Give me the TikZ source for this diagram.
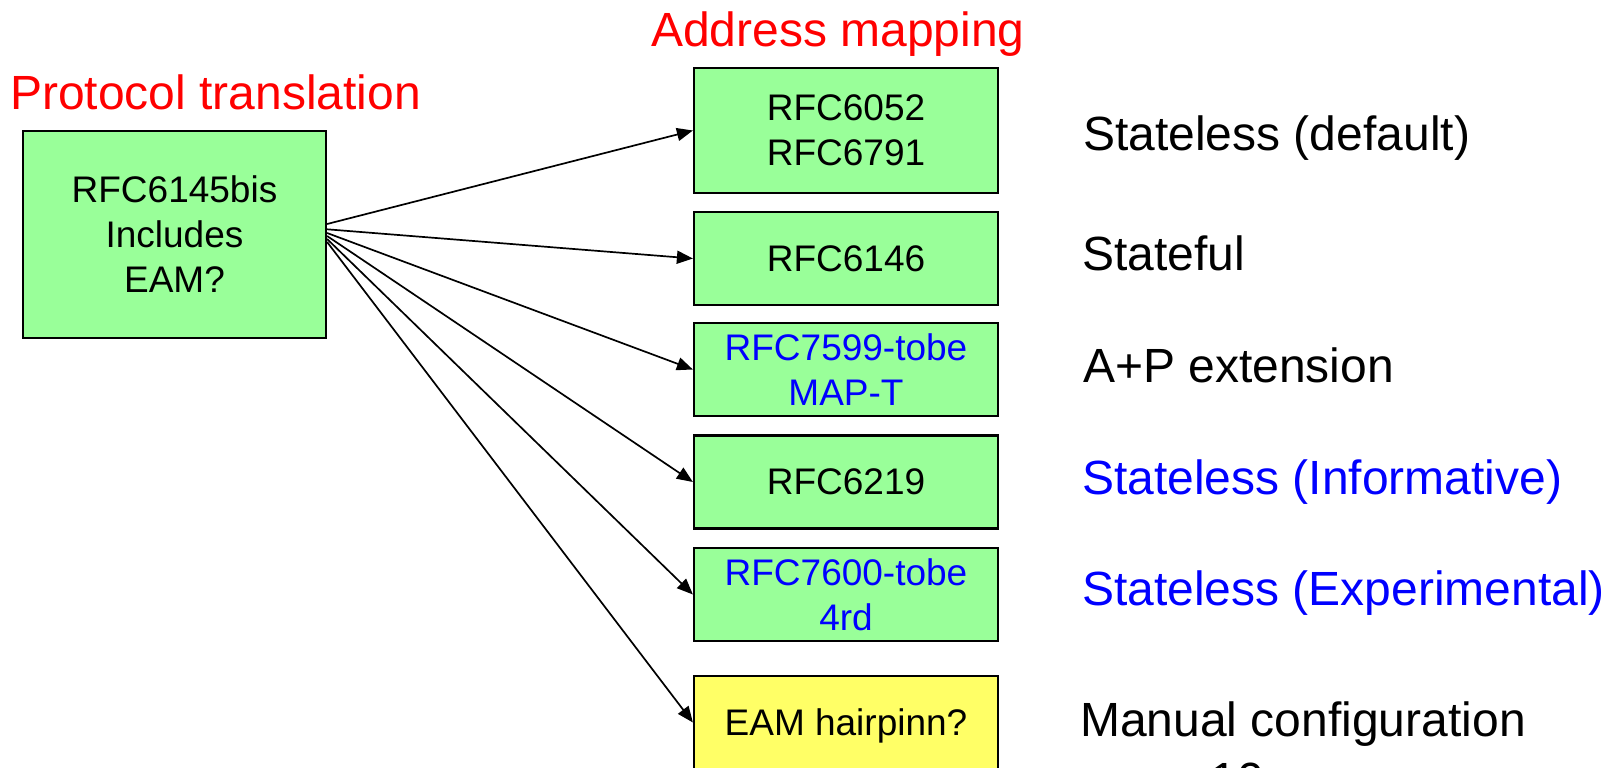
\documentclass[tikz,border=0pt]{standalone}
\usepackage{fontspec}
\setmainfont{Liberation Sans}
\usetikzlibrary{arrows.meta}
\definecolor{boxgreen}{RGB}{153,255,153}
\definecolor{boxyellow}{RGB}{255,255,102}
\definecolor{titlered}{RGB}{255,0,0}
\definecolor{noteblue}{RGB}{0,0,255}

\begin{document}
\begin{tikzpicture}[x=1pt,y=-1pt,
  rfcbox/.style={draw=black, line width=2.2pt, fill=boxgreen,
    minimum width=304pt, minimum height=93pt, inner sep=0pt,
    align=center, font=\fontsize{37}{45}\selectfont},
  heading/.style={text=titlered, anchor=base west, inner sep=0pt,
    font=\fontsize{48}{57}\selectfont},
  remark/.style={anchor=base west, inner sep=0pt,
    font=\fontsize{48}{57}\selectfont},
  link/.style={line width=1.7pt, -{Triangle[length=16pt,width=13pt]}}
]
\useasboundingbox (0,0) rectangle (1620,768);
\clip (0,0) rectangle (1620,768);

% column headings
\node[heading] (hproto) at (10,109) {Protocol translation};
\node[heading] (hmap)   at (651,47) {Address mapping};

% translator box
\node[rfcbox, minimum width=303pt, minimum height=207pt] (xlat) at (174.5,234.5)
  {RFC6145bis\\Includes\\EAM?};

% address mapping boxes
\node[rfcbox, minimum height=125pt] (m1) at (846,130.5) {RFC6052\\RFC6791};
\node[rfcbox] (m2) at (846,258.5) {RFC6146};
\node[rfcbox, text=noteblue] (m3) at (846,369.5) {RFC7599-tobe\\MAP-T};
\node[rfcbox] (m4) at (846,482) {RFC6219};
\node[rfcbox, text=noteblue] (m5) at (846,594.5) {RFC7600-tobe\\4rd};
\node[rfcbox, fill=boxyellow, text depth=0pt] (m6) at (846,722.5) {EAM hairpinn?};

% fan of connectors
\draw[link] ([yshift=10.5pt]xlat.east) -- (m1.west);
\draw[link] ([yshift=5.2pt]xlat.east)  -- (m2.west);
\draw[link] ([yshift=1.5pt]xlat.east)  -- (m3.west);
\draw[link] ([yshift=-1.5pt]xlat.east) -- (m4.west);
\draw[link] ([yshift=-4.5pt]xlat.east) -- (m5.west);
\draw[link] ([yshift=-7.5pt]xlat.east) -- (m6.west);

% mode notes
\node[remark] (n1) at (1083,150) {Stateless (default)};
\node[remark] (n2) at (1082,270) {Stateful};
\node[remark] (n3) at (1083,382) {A+P extension};
\node[remark, text=noteblue] (n4) at (1082,494) {Stateless (Informative)};
\node[remark, text=noteblue] (n5) at (1082,605) {Stateless (Experimental)};
\node[remark] (n6) at (1080,736) {Manual configuration};

% page number
\node[remark, anchor=base] (pg) at (1237,796) {10};
\end{tikzpicture}
\end{document}
